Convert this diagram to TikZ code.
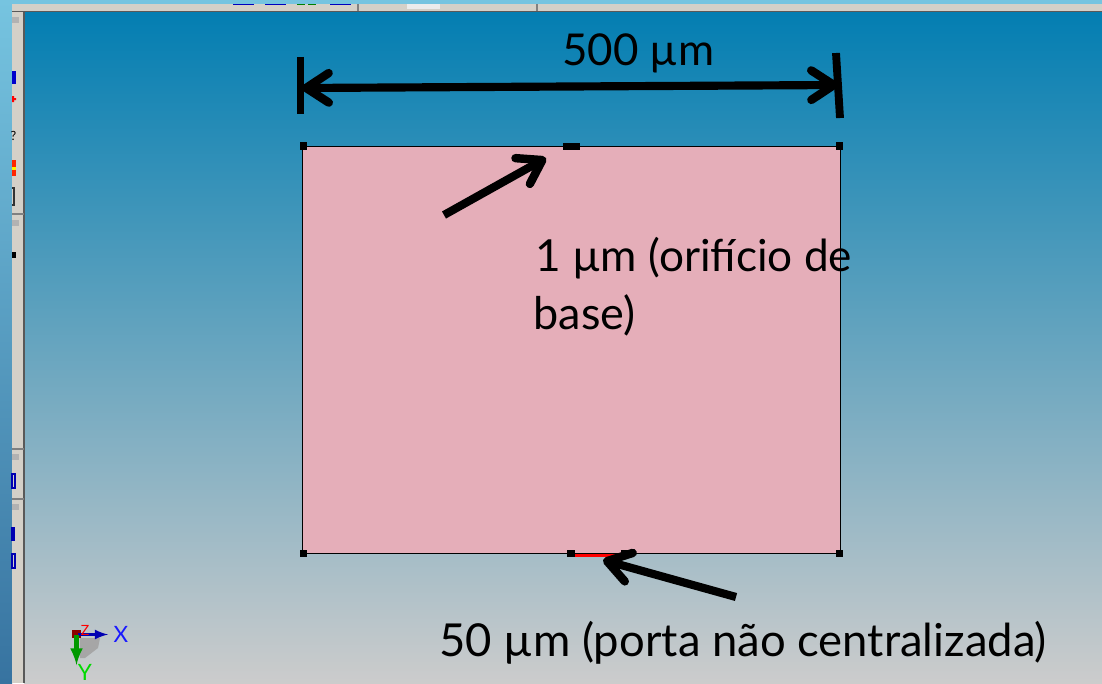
\documentclass[tikz,border=0pt]{standalone}
\usepackage{fontspec}
\setmainfont{Lato}
\usetikzlibrary{arrows.meta}
\definecolor{bgtop}{RGB}{3,126,178}
\definecolor{bgbottom}{RGB}{204,204,204}
\definecolor{stripetop}{RGB}{118,196,224}
\definecolor{stripebottom}{RGB}{55,115,160}
\definecolor{toolgray}{RGB}{212,208,200}
\definecolor{platepink}{RGB}{229,174,185}
\tikzset{
	barb/.tip={Straight Barb[length=16pt, width=21pt, line width=6pt, round]},
	handle/.style={fill=black, inner sep=0pt, minimum size=5.6pt, draw=none},
	pointer/.style={line width=5.8pt, -barb},
	label/.style={inner sep=0pt, anchor=base west, font=\fontsize{32}{32}\selectfont},
	tick/.style={line width=5.6pt}
}
\begin{document}
\begin{tikzpicture}[x=0.025cm, y=-0.025cm]
	\useasboundingbox (0,0) rectangle (1102,683);

	%Hintergrund
	\shade [top color=bgtop, bottom color=bgbottom, draw=none] (24,12) rectangle (1102,683);
	\shade [top color=stripetop, bottom color=stripebottom, draw=none] (0,0) rectangle (12,683);
	\fill [stripetop] (0,0) rectangle (1102,4);

	%Werkzeugleisten
	\fill [toolgray] (12,4) rectangle (1102,11);
	\fill [toolgray] (12,11) rectangle (24,683);
	\draw [gray!70!black, line width=1pt] (12,11.5) -- (1102,11.5);
	\draw [gray!70!black, line width=1pt] (24,11.5) -- (24,683);
	\foreach \y in {214,449,499} {
		\draw [gray, line width=0.8pt] (12,\y) -- (24,\y);
	}
	\foreach \y in {20,223,457,507} {
		\fill [gray!60] (12,\y-3) rectangle (19,\y+3);
	}
	\foreach \x/\w in {233/21,265/21,330/21} {
		\fill [blue!75!black] (\x,4) rectangle (\x+\w,5);
	}
	\foreach \x in {297,308} {
		\fill [green!50!black] (\x,4) rectangle (\x+8,5);
	}
	\foreach \x in {358,537} {
		\draw [gray, line width=0.8pt] (\x,4) -- (\x,11);
	}
	\fill [white!85!gray] (407,4) rectangle (440,9);

	%Symbole links
	\fill [blue!80!black] (12,71) rectangle (16,84);
	\fill [red] (12,96) -- (14,96) -- (14,98) -- (16,98) -- (16,100) -- (14,100) -- (14,102) -- (12,102) -- cycle;
	\node [inner sep=0pt, font=\fontsize{9}{9}\selectfont] (helpmark) at (13.5,136) {?};
	\fill [red!85!yellow] (12,160) rectangle (16,176);
	\fill [yellow] (12,167) rectangle (16,170);
	\draw [black!80, line width=0.8pt] (12,188) -- (14,188) -- (14,205) -- (12,205);
	\fill [black] (12,252) rectangle (16,258);
	\draw [blue!70!black, line width=1pt] (12,474) rectangle (15,488);
	\draw [blue!70!black, line width=1pt] (12,528) rectangle (14,540);
	\draw [blue!70!black, line width=1pt] (12,554) rectangle (15,568);

	%Grundplatte
	\draw [fill=platepink, draw=black, line width=0.7pt] (302.5,146.5) rectangle (840,553.5);
	\draw [red, line width=2.6pt] (574,555.5) -- (622,555.5);

	%Griffe
	\node [handle] (hTL) at (303.5,146) {};
	\node [handle] (hTR) at (839.5,146) {};
	\node [handle] (hBL) at (303.5,553.5) {};
	\node [handle] (hBR) at (839.5,553.5) {};
	\node [handle, minimum width=11.5pt, minimum height=5pt] (hHole) at (571.5,146.5) {};
	\node [handle] (hPortA) at (571,553.5) {};
	\node [handle] (hPortB) at (625,553.5) {};

	%Bemaßung
	\coordinate (dimLtop) at (300.5,57);
	\coordinate (dimLbot) at (300.5,114);
	\coordinate (dimRtop) at (836,53);
	\coordinate (dimRbot) at (840,118);
	\coordinate (dimL) at (302,88);
	\coordinate (dimR) at (838,85);
	\draw [tick] (dimLtop) -- (dimLbot);
	\draw [tick] (dimRtop) -- (dimRbot);
	\draw [pointer, barb-barb] (dimL) -- (dimR);

	%Pfeile
	\coordinate (holeTail) at (444,215);
	\coordinate (holeTip) at (546,158);
	\coordinate (portTail) at (736,597);
	\coordinate (portTip) at (603,560);
	\draw [pointer] (holeTail) -- (holeTip);
	\draw [pointer] (portTail) -- (portTip);

	%Texte
	\node [label, font=\fontsize{31.2}{32}\selectfont] (width) at (562,66) {500 µm};
	\node [label, font=\fontsize{31.4}{32}\selectfont] (holeA) at (535,271) {1 µm (orifício de};
	\node [label] (holeB) at (533.5,329) {base)};
	\node [label, font=\fontsize{32.3}{33}\selectfont] (port) at (439,656) {50 µm (porta não centralizada)};

	%Bezugssystem
	\fill [gray!70] (80,638) -- (100,638) -- (98,648) -- (85,658) -- (80,658) -- cycle;
	\fill [red!55!black] (72,630) rectangle (81,638);
	\draw [-latex, blue!70!black, line width=2.2pt] (78,634.5) -- (108,634.5);
	\draw [-latex, green!60!black, line width=3pt] (76.5,635) -- (76.5,665);
	\node [inner sep=0pt, red, font=\fontsize{10}{10}\selectfont] (axisZ) at (85,630) {Z};
	\node [inner sep=0pt, blue!90!white, font=\fontsize{16}{16}\selectfont] (axisX) at (121,634) {X};
	\node [inner sep=0pt, green!85!black, font=\fontsize{16}{16}\selectfont] (axisY) at (85,672) {Y};
\end{tikzpicture}
\end{document}
